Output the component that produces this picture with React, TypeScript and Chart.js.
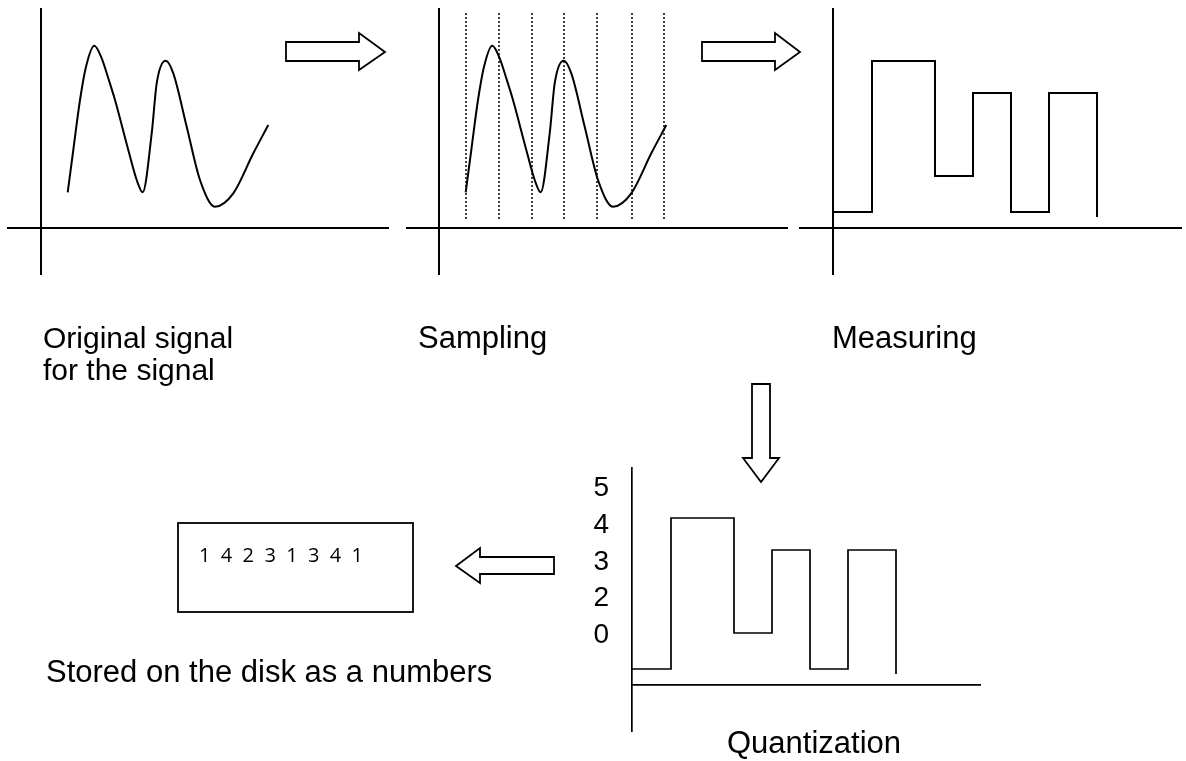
import React, { useEffect, useRef } from 'react';
import { Chart, registerables } from 'chart.js';

Chart.register(...registerables);

// ---------------- data (1 unit = 10 px) ----------------
// original analogue signal
const signalTime = [2.67, 3.23, 3.9, 4.5, 5.33, 6.07, 6.73, 7.4, 8.73, 9.57, 10.17, 11.07, 11.57, 12.47, 13.23, 14.57, 15.9, 17.4, 19.23, 21.23, 22.73];
const signalValue = [3.57, 7.8, 12.8, 16.13, 18.23, 16.97, 14.97, 12.8, 7.8, 4.8, 3.57, 9.47, 14.47, 16.73, 15.47, 10.13, 4.8, 2.13, 3.47, 7.47, 10.3];

// sampling instants (dotted lines) and their vertical extent
const sampleTimes = [2.7, 6.0, 9.3, 12.5, 15.8, 19.3, 22.5];
const sampleLineFrom = 0.9;
const sampleLineTo = 21.5;

// measured / quantized step signal
const stepEdges = [0, 3.9, 10.2, 14.0, 17.8, 21.6, 26.4];
const measuredLevels = [1.6, 16.7, 5.2, 13.5, 1.6, 13.5];
const stepTail = 1.1;

// quantization axis labels
const quantTickLabels = ['5', '4', '3', '2', '0'];
const quantTickPositions = [19.7, 16.0, 12.3, 8.7, 5.0];

// numbers stored on disk
const storedNumbers = [1, 4, 2, 3, 1, 3, 4, 1];

// ---------------- layout ----------------
const PX = 10;
const PAD = 6;
const LABEL_AXIS = 60;

type PanelSpec = { left: number; top: number; right: number; bottom: number; ox: number; oy: number; labels?: boolean };

const panelSpecs: PanelSpec[] = [
  { left: 7, top: 8, right: 389, bottom: 275, ox: 41, oy: 228 },
  { left: 406, top: 8, right: 788, bottom: 275, ox: 439, oy: 228 },
  { left: 799, top: 8, right: 1182, bottom: 275, ox: 833, oy: 228 },
  { left: 632, top: 467, right: 981, bottom: 732, ox: 632, oy: 685, labels: true },
];

const FONT = 'Liberation Sans, Arial, Helvetica, sans-serif';

function zeroAxis(min: number, max: number, lw: number, position?: string) {
  return {
    type: 'linear',
    position,
    min,
    max,
    border: { display: false },
    ticks: { display: false },
    grid: { display: true, drawTicks: false, color: '#000', lineWidth: lw },
    afterBuildTicks: (s: any) => {
      s.ticks = [{ value: 0 }];
    },
    afterFit: (s: any) => {
      s.paddingTop = 0;
      s.paddingBottom = 0;
      s.paddingLeft = 0;
      s.paddingRight = 0;
    },
  };
}

function signalPoints() {
  return signalTime.map((t, i) => ({ x: t, y: signalValue[i] }));
}

function stepPoints() {
  return stepEdges.map((e, i) => ({ x: e, y: i < measuredLevels.length ? measuredLevels[i] : stepTail }));
}

function buildDatasets(idx: number): any[] {
  const curve = {
    data: signalPoints(),
    borderColor: '#000',
    borderWidth: 2,
    cubicInterpolationMode: 'monotone',
    pointRadius: 0,
    fill: false,
  };
  if (idx === 0) return [curve];
  if (idx === 1) {
    const dots = sampleTimes.map((t) => ({
      data: [
        { x: t, y: sampleLineFrom },
        { x: t, y: sampleLineTo },
      ],
      borderColor: '#000',
      borderWidth: 1.5,
      borderDash: [2, 2],
      pointRadius: 0,
      fill: false,
    }));
    return [curve, ...dots];
  }
  return [
    {
      data: stepPoints(),
      borderColor: '#000',
      borderWidth: idx === 2 ? 2 : 1.7,
      stepped: 'before',
      pointRadius: 0,
      fill: false,
    },
  ];
}

function canvasBox(p: PanelSpec) {
  const extra = p.labels ? LABEL_AXIS : 0;
  return {
    left: p.left - PAD - extra,
    top: p.top - PAD,
    width: p.right - p.left + 2 * PAD + extra,
    height: p.bottom - p.top + 2 * PAD,
  };
}

function rightArrow(x0: number, xh: number, tipX: number, by0: number, by1: number, hy0: number, hy1: number, tipY: number) {
  return `${x0},${by0} ${xh},${by0} ${xh},${hy0} ${tipX},${tipY} ${xh},${hy1} ${xh},${by1} ${x0},${by1}`;
}

export default function App() {
  const refs = useRef<(HTMLCanvasElement | null)[]>([]);

  useEffect(() => {
    const charts: Chart[] = [];
    panelSpecs.forEach((p, idx) => {
      const cv = refs.current[idx];
      if (!cv) return;
      const xmin = (p.left - p.ox) / PX;
      const xmax = (p.right - p.ox) / PX;
      const ymin = (p.oy - p.bottom) / PX;
      const ymax = (p.oy - p.top) / PX;
      const lw = idx === 3 ? 1.7 : 2;
      const scales: any = {
        x: zeroAxis(xmin, xmax, lw, 'bottom'),
        y: zeroAxis(ymin, ymax, lw, 'left'),
      };
      if (p.labels) {
        scales.yLab = {
          type: 'linear',
          position: 'left',
          min: ymin,
          max: ymax,
          border: { display: false },
          grid: { display: false, drawTicks: false },
          ticks: {
            padding: 23,
            autoSkip: false,
            color: '#000',
            font: { family: FONT, size: 28 },
            callback: (_v: any, i: number) => quantTickLabels[i],
          },
          afterBuildTicks: (s: any) => {
            s.ticks = quantTickPositions.map((v) => ({ value: v }));
          },
          afterFit: (s: any) => {
            s.width = LABEL_AXIS;
            s.paddingTop = 0;
            s.paddingBottom = 0;
          },
        };
      }
      const chart = new Chart(cv, {
        type: 'line',
        data: { datasets: buildDatasets(idx) },
        options: {
          animation: false,
          responsive: false,
          maintainAspectRatio: false,
          events: [],
          layout: { padding: PAD },
          plugins: { legend: { display: false }, tooltip: { enabled: false } },
          scales,
        } as any,
      });
      charts.push(chart);
    });
    return () => charts.forEach((c) => c.destroy());
  }, []);

  const textStyle = { fontFamily: FONT, fontSize: 30, fill: '#000' } as any;
  const textStyle31 = { fontFamily: FONT, fontSize: 31, fill: '#000' } as any;

  return (
    <div style={{ position: 'absolute', left: 0, top: 0, width: 1186, height: 761, background: '#fff', overflow: 'hidden' }}>
      {panelSpecs.map((p, idx) => {
        const b = canvasBox(p);
        return (
          <canvas
            key={idx}
            ref={(el) => {
              refs.current[idx] = el;
            }}
            width={b.width}
            height={b.height}
            style={{ position: 'absolute', left: b.left, top: b.top, width: b.width, height: b.height }}
          />
        );
      })}
      <svg width={1186} height={761} style={{ position: 'absolute', left: 0, top: 0 }}>
        <g fill="#fff" stroke="#000" strokeWidth={1.8} strokeLinejoin="miter">
          <polygon points={rightArrow(286, 359, 385, 42, 61, 33, 70, 52)} />
          <polygon points={rightArrow(702, 775, 800, 42, 61, 33, 70, 52)} />
          <polygon points="752,384 770,384 770,458 779,458 761,482 743,458 752,458 752,384" />
          <polygon points="554,557 480,557 480,548 456,566 480,583 480,574 554,574" />
          <rect x={178} y={523} width={235} height={89} />
        </g>
        <text x={43} y={348} style={textStyle}>Original signal</text>
        <text x={43} y={380} style={textStyle}>for the signal</text>
        <text x={418} y={348} style={textStyle31}>Sampling</text>
        <text x={832} y={348} style={textStyle31}>Measuring</text>
        <text x={46} y={682} style={textStyle31}>Stored on the disk as a numbers</text>
        <text x={727} y={753} style={textStyle31}>Quantization</text>
        <text
          x={199}
          y={562}
          textLength={164}
          lengthAdjust="spacing"
          style={{ fontFamily: 'Open Sans, Noto Sans, sans-serif', fontSize: 20, fill: '#000' } as any}
        >
          {storedNumbers.join(' ')}
        </text>
      </svg>
    </div>
  );
}
